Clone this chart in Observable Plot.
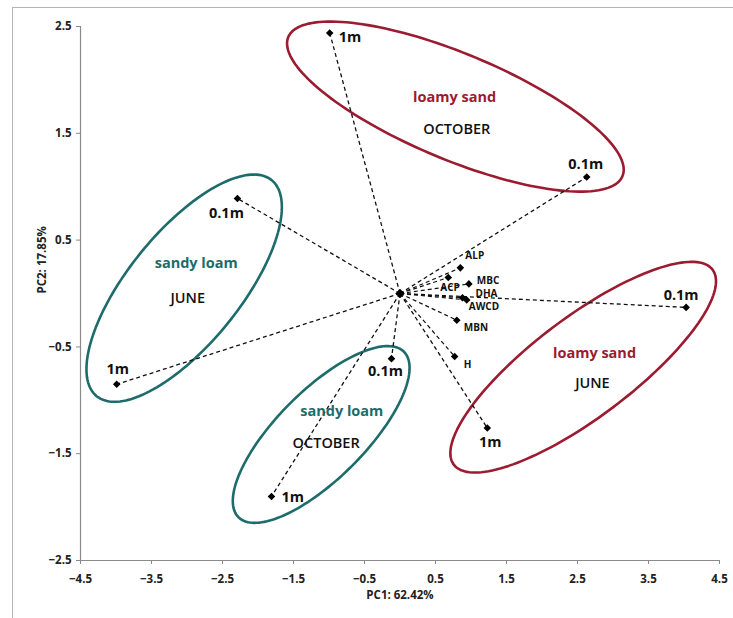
<!DOCTYPE html>
<html><head><meta charset="utf-8">
<script src="https://cdn.jsdelivr.net/npm/d3@7"></script>
<script src="https://cdn.jsdelivr.net/npm/@observablehq/plot@0.6"></script>
<style>
body{margin:0;background:#fff;}
#wrap{position:relative;width:733px;height:618px;overflow:hidden;}
#border{position:absolute;left:12px;top:7px;width:900px;height:900px;border-left:1px solid #b4b4b4;border-top:1px solid #b4b4b4;pointer-events:none;}
</style></head><body>
<div id="wrap"><div id="border"></div></div>
<script>
// ---- data ----
const sampleTexture = ["loamy sand","loamy sand","sandy loam","sandy loam","loamy sand","loamy sand","sandy loam","sandy loam"];
const sampleMonth   = ["OCTOBER","OCTOBER","JUNE","JUNE","JUNE","JUNE","OCTOBER","OCTOBER"];
const sampleDepth   = ["1m","0.1m","0.1m","1m","0.1m","1m","0.1m","1m"];
const samplePC1     = [-0.99, 2.63, -2.29, -3.99, 4.03, 1.23, -0.12, -1.81];
const samplePC2     = [ 2.44, 1.09,  0.89, -0.85, -0.13, -1.26, -0.61, -1.90];

const variableName = ["ALP","ACP","MBC","DHA","AWCD","MBN","H"];
const variablePC1  = [0.85, 0.68, 0.97, 0.88, 0.94, 0.80, 0.77];
const variablePC2  = [0.24, 0.15, 0.09, -0.04, -0.06, -0.25, -0.59];

const groupTexture = ["loamy sand","sandy loam","sandy loam","loamy sand"];
const groupMonth   = ["OCTOBER","JUNE","OCTOBER","JUNE"];
const ellipseCenterPC1 = [0.78, -3.04, -1.11, 2.58];
const ellipseCenterPC2 = [1.75, 0.05, -1.32, -0.69];
const ellipseSemiMajorPx = [181, 139, 117, 162];
const ellipseSemiMinorPx = [53, 56, 44, 50];
const ellipseTiltDeg = [-22.6, 51, 45, 37];
const textureLabelPC1 = [0.77, -2.87, -0.82, 2.74];
const textureLabelPC2 = [1.84, 0.28, -1.10, -0.56];
const monthLabelPC1 = [0.80, -2.99, -1.04, 2.71];
const monthLabelPC2 = [1.54, -0.05, -1.40, -0.84];

const xTicks = [-4.5,-3.5,-2.5,-1.5,-0.5,0.5,1.5,2.5,3.5,4.5];
const yTicks = [-2.5,-1.5,-0.5,0.5,1.5,2.5];
const xTitle = "PC1: 62.42%";
const yTitle = "PC2: 17.85%";

// ---- layout & style ----
const W = 733, H = 618, mL = 80, mR = 14, mT = 26, mB = 58;
const kx = (W - mL - mR) / 9, ky = (H - mT - mB) / 5;
const textureColor = {"loamy sand": "#9b1b30", "sandy loam": "#1e6b6b"};
const font = "'Open Sans', sans-serif";
// label nudges (px): [dx, dy, anchor]
const sampleNudge = [[9,4,"start"],[-1,-13,"middle"],[-11,15,"middle"],[1,-15,"middle"],[-5,-12,"middle"],[3,14,"middle"],[-6,13,"middle"],[10,1,"start"]];
const variableNudge = [[5,-12],[-8,10],[8,-3],[13,-4],[2,7],[7,8],[9,8]];

const samples = sampleDepth.map((d,i)=>({depth:d, texture:sampleTexture[i], month:sampleMonth[i], x:samplePC1[i], y:samplePC2[i]}));
const variables = variableName.map((n,i)=>({name:n, x:variablePC1[i], y:variablePC2[i]}));
const groups = groupTexture.map((t,i)=>({texture:t, month:groupMonth[i], cx:ellipseCenterPC1[i], cy:ellipseCenterPC2[i], a:ellipseSemiMajorPx[i], b:ellipseSemiMinorPx[i], tilt:ellipseTiltDeg[i], tx:textureLabelPC1[i], ty:textureLabelPC2[i], mx:monthLabelPC1[i], my:monthLabelPC2[i]}));

const ellipsePts = [];
groups.forEach((g,gi)=>{
  const th = g.tilt*Math.PI/180, N = 160;
  for (let i=0;i<N;i++){
    const t = 2*Math.PI*i/N;
    const dxp = g.a*Math.cos(t)*Math.cos(th) - g.b*Math.sin(t)*Math.sin(th);
    const dyp = g.a*Math.cos(t)*Math.sin(th) + g.b*Math.sin(t)*Math.cos(th);
    ellipsePts.push({g:gi, texture:g.texture, x:g.cx + dxp/kx, y:g.cy + dyp/ky});
  }
});

const origin = [{x:0,y:0}];
const fmt = d3.format(".1f");

const marks = [
  Plot.ruleY([-2.5], {stroke:"#8a8a8a", strokeWidth:1.2}),
  Plot.ruleX([-4.5], {stroke:"#8a8a8a", strokeWidth:1.2}),
  Plot.axisX({ticks:xTicks, tickFormat:fmt, tickSize:4, tickPadding:10, stroke:"#8a8a8a", fill:"#222", fontSize:11.5, fontWeight:"bold", label:null}),
  Plot.axisY({ticks:yTicks, tickFormat:fmt, tickSize:4, tickPadding:5, stroke:"#8a8a8a", fill:"#222", fontSize:11.5, fontWeight:"bold", label:null}),
  Plot.text([xTitle], {frameAnchor:"bottom", dy:38, text:d=>d, fontSize:11.5, fontWeight:"bold", fill:"#222"}),
  Plot.text([yTitle], {frameAnchor:"left", dx:-38, rotate:-90, text:d=>d, fontSize:11.5, fontWeight:"bold", fill:"#222"}),
  Plot.line(ellipsePts, {x:"x", y:"y", z:"g", stroke:d=>textureColor[d.texture], strokeWidth:2.6, curve:"linear-closed"}),
  Plot.link(samples, {x1:()=>0, y1:()=>0, x2:"x", y2:"y", stroke:"#111", strokeWidth:1.3, strokeDasharray:"4,3"}),
  Plot.link(variables, {x1:()=>0, y1:()=>0, x2:"x", y2:"y", stroke:"#111", strokeWidth:1.2, strokeDasharray:"4,3"}),
  Plot.dot(samples, {x:"x", y:"y", symbol:"diamond2", fill:"#000", stroke:"none", r:3.4}),
  Plot.dot(variables, {x:"x", y:"y", symbol:"diamond2", fill:"#000", stroke:"none", r:3.4}),
  Plot.dot(origin, {x:"x", y:"y", symbol:"diamond2", fill:"#000", stroke:"none", r:4.3}),
  Plot.text(groups, {x:"tx", y:"ty", text:"texture", fill:d=>textureColor[d.texture], fontSize:14.5, fontWeight:"bold"}),
  Plot.text(groups, {x:"mx", y:"my", text:"month", fill:"#111", fontSize:14.5, fontWeight:600}),
  ...samples.map((s,i)=>Plot.text([s], {x:"x", y:"y", text:"depth", dx:sampleNudge[i][0], dy:sampleNudge[i][1], textAnchor:sampleNudge[i][2], fill:"#111", fontSize:14.5, fontWeight:"bold"})),
  ...variables.map((v,i)=>Plot.text([v], {x:"x", y:"y", text:"name", dx:variableNudge[i][0], dy:variableNudge[i][1], textAnchor:"start", fill:"#111", fontSize:10, fontWeight:"bold"}))
];

const chart = Plot.plot({
  width: W, height: H,
  marginLeft: mL, marginRight: mR, marginTop: mT, marginBottom: mB,
  x: {domain:[-4.5,4.5]},
  y: {domain:[-2.5,2.5]},
  style: {fontFamily: font, background:"transparent", overflow:"visible"},
  marks
});
document.getElementById("wrap").appendChild(chart);
</script>
</body></html>
